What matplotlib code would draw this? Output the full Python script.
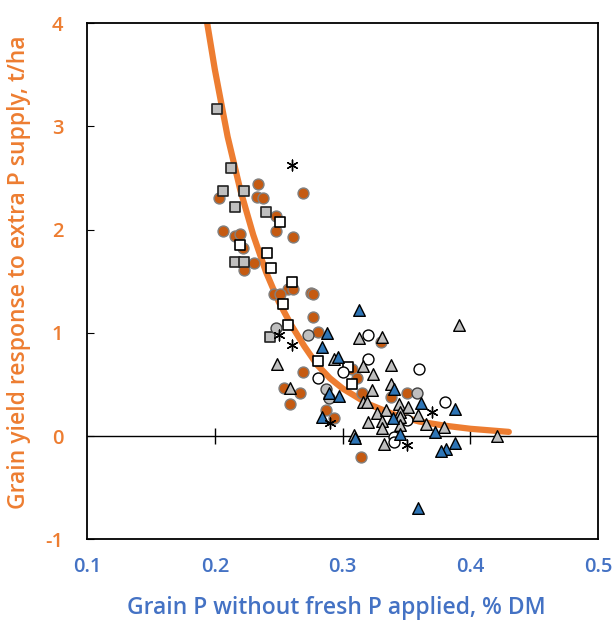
import matplotlib
matplotlib.use("Agg")
import matplotlib.pyplot as plt

plt.rcParams['font.family'] = ['Open Sans', 'DejaVu Sans']

# fitted response curve
curve_x = [0.194, 0.200, 0.210, 0.220, 0.230, 0.240, 0.250, 0.260, 0.270, 0.280,
           0.290, 0.300, 0.320, 0.340, 0.360, 0.380, 0.400, 0.430]
curve_y = [4.00, 3.55, 2.90, 2.38, 1.95, 1.59, 1.30, 1.07, 0.87, 0.69,
           0.56, 0.46, 0.31, 0.21, 0.14, 0.10, 0.07, 0.04]

# orange filled circles
orange_x = [0.234, 0.203, 0.233, 0.238, 0.269, 0.248, 0.206, 0.216, 0.220, 0.222,
            0.248, 0.261, 0.231, 0.223, 0.257, 0.261, 0.246, 0.251, 0.275, 0.277,
            0.277, 0.281, 0.269, 0.330, 0.307, 0.311, 0.254, 0.267, 0.259, 0.315,
            0.338, 0.350, 0.287, 0.293, 0.314]
orange_y = [2.44, 2.31, 2.32, 2.31, 2.35, 2.13, 1.99, 1.94, 1.96, 1.82,
            1.99, 1.93, 1.68, 1.61, 1.42, 1.42, 1.38, 1.38, 1.39, 1.38,
            1.15, 1.01, 0.62, 0.91, 0.65, 0.56, 0.47, 0.42, 0.31, 0.42,
            0.38, 0.42, 0.25, 0.17, -0.20]

# grey squares
gsq_x = [0.202, 0.213, 0.206, 0.223, 0.216, 0.240, 0.216, 0.223, 0.243]
gsq_y = [3.17, 2.60, 2.37, 2.37, 2.22, 2.17, 1.69, 1.69, 0.96]

# white squares
wsq_x = [0.251, 0.220, 0.241, 0.244, 0.260, 0.253, 0.257, 0.281, 0.304, 0.307]
wsq_y = [2.07, 1.85, 1.77, 1.63, 1.49, 1.28, 1.08, 0.73, 0.67, 0.50]

# white circles
wci_x = [0.281, 0.320, 0.320, 0.360, 0.300, 0.380, 0.350, 0.340, 0.340]
wci_y = [0.56, 0.98, 0.75, 0.65, 0.62, 0.33, 0.16, -0.01, -0.06]

# grey circles
gci_x = [0.248, 0.273, 0.287, 0.289, 0.358]
gci_y = [1.05, 0.98, 0.46, 0.37, 0.42]

# grey triangles
gtr_x = [0.249, 0.259, 0.313, 0.331, 0.293, 0.316, 0.338, 0.324, 0.323, 0.338,
         0.316, 0.319, 0.344, 0.351, 0.345, 0.327, 0.334, 0.320, 0.331, 0.331,
         0.345, 0.359, 0.365, 0.345, 0.332, 0.309, 0.379, 0.391, 0.421]
gtr_y = [0.70, 0.47, 0.95, 0.96, 0.75, 0.68, 0.69, 0.60, 0.45, 0.50,
         0.33, 0.33, 0.31, 0.28, 0.23, 0.22, 0.25, 0.14, 0.15, 0.08,
         0.18, 0.20, 0.12, 0.11, -0.08, 0.01, 0.09, 1.08, 0.00]

# blue triangles
btr_x = [0.313, 0.288, 0.284, 0.296, 0.340, 0.361, 0.289, 0.297, 0.284, 0.339,
         0.310, 0.345, 0.372, 0.388, 0.388, 0.381, 0.377, 0.359]
btr_y = [1.22, 1.00, 0.86, 0.77, 0.46, 0.32, 0.42, 0.39, 0.18, 0.17,
         -0.02, 0.02, 0.04, 0.26, -0.07, -0.13, -0.15, -0.70]

# asterisks
ast_x = [0.260, 0.250, 0.260, 0.290, 0.370, 0.350]
ast_y = [2.63, 0.98, 0.88, 0.13, 0.23, -0.09]

xticks = [0.1, 0.2, 0.3, 0.4, 0.5]
yticks = [-1, 0, 1, 2, 3, 4]

orange = '#ED7D31'
blue = '#4472C4'

fig = plt.figure(figsize=(6.13, 6.27), dpi=100)
ax = fig.add_axes([0.142, 0.140, 0.834, 0.823])

ax.plot(curve_x, curve_y, color=orange, lw=4.5, solid_capstyle='round', zorder=2)
ax.axhline(0, color='black', lw=1, zorder=1)
ax.plot(xticks[1:-1], [0] * 3, ls='none', marker='|', ms=12, mew=1, color='black', zorder=1)

ms = 62
ax.scatter(orange_x, orange_y, s=ms, marker='o', facecolor='#C55A11', edgecolor='#808080', lw=1, zorder=3)
ax.scatter(gsq_x, gsq_y, s=ms, marker='s', facecolor='#BFBFBF', edgecolor='#222222', lw=1.2, zorder=3)
ax.scatter(wsq_x, wsq_y, s=ms, marker='s', facecolor='white', edgecolor='black', lw=1.2, zorder=3)
ax.scatter(wci_x, wci_y, s=ms, marker='o', facecolor='white', edgecolor='black', lw=1, zorder=3)
ax.scatter(gci_x, gci_y, s=ms, marker='o', facecolor='#BFBFBF', edgecolor='#404040', lw=1, zorder=3)
ax.scatter(gtr_x, gtr_y, s=70, marker='^', facecolor='#BFBFBF', edgecolor='black', lw=1, zorder=3)
ax.scatter(btr_x, btr_y, s=70, marker='^', facecolor='#2E75B6', edgecolor='black', lw=1, zorder=3)
ax.scatter(ast_x, ast_y, s=60, marker=(6, 2, 0), color='black', lw=1, zorder=3)

ax.set_xlim(0.1, 0.5)
ax.set_ylim(-1, 4)
ax.set_xticks(xticks)
ax.set_xticklabels([str(v) for v in xticks])
ax.set_yticks(yticks)
ax.set_yticklabels([str(v) for v in yticks])
ax.tick_params(axis='x', length=0, pad=13, labelsize=14.5, labelcolor=blue)
ax.tick_params(axis='y', direction='in', length=5, pad=17, labelsize=14.5, labelcolor=orange)
for lab in ax.get_xticklabels() + ax.get_yticklabels():
    lab.set_fontweight('semibold')

for s in ax.spines.values():
    s.set_color('black')
    s.set_linewidth(1.3)

fig.text(0.548, 0.031, 'Grain P without fresh P applied, % DM', color=blue,
         fontsize=16.5, fontweight='semibold', ha='center', va='center')
fig.text(0.031, 0.566, 'Grain yield response to extra P supply, t/ha', color=orange,
         fontsize=16.5, fontweight='semibold', ha='center', va='center', rotation=90)

fig.savefig('out.png', dpi=100)
